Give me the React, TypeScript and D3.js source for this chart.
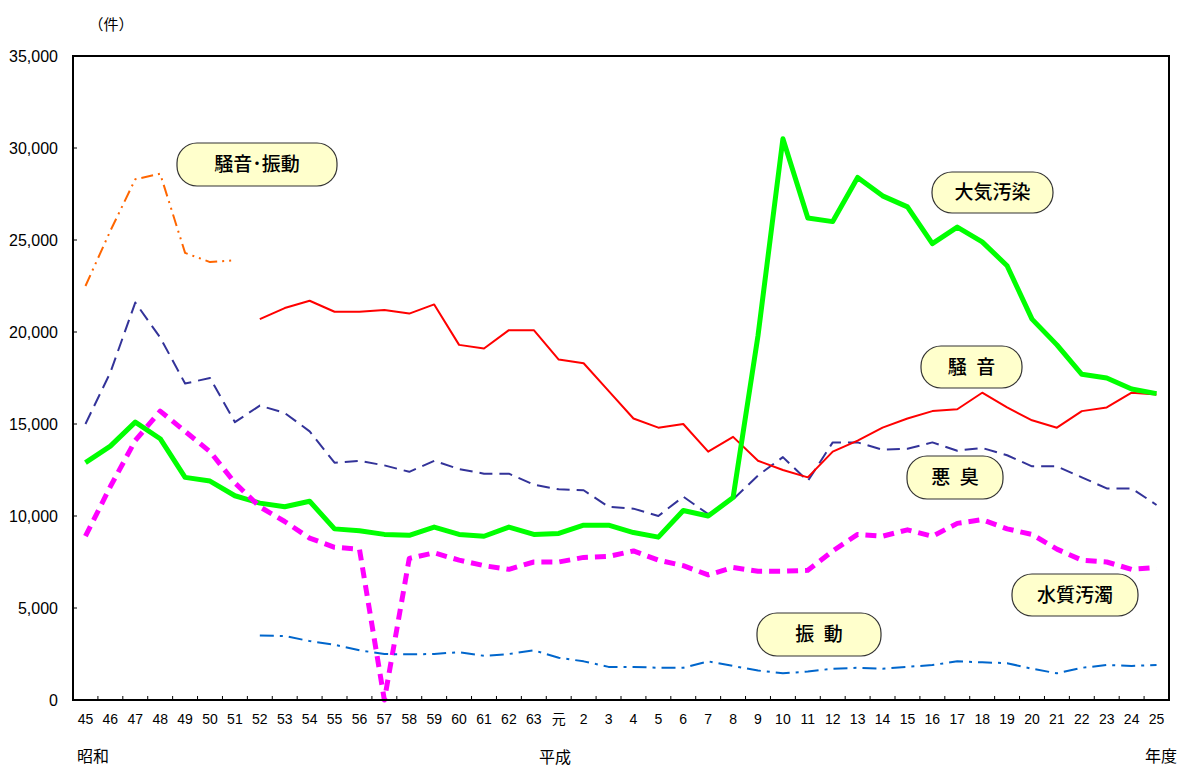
import React from "react";
import * as d3 from "d3";

const categories = [
  "45","46","47","48","49","50","51","52","53","54","55","56","57","58","59","60","61","62","63",
  "元","2","3","4","5","6","7","8","9","10","11","12","13","14","15","16","17","18","19","20","21","22","23","24","25",
];

type V = number | null;

const noiseVibration: V[] = [22500, 25500, 28300, 28600, 24300, 23800, 23900,
  null, null, null, null, null, null, null, null, null, null, null, null, null, null, null, null, null, null, null,
  null, null, null, null, null, null, null, null, null, null, null, null, null, null, null, null, null, null];

const odor: V[] = [15000, 17800, 21600, 19700, 17200, 17500, 15100, 16000, 15600, 14600, 12900, 13000, 12750,
  12400, 13000, 12550, 12300, 12300, 11700, 11450, 11400, 10500, 10400, 10000, 11050, 10100, 10900, 12200,
  13200, 11900, 14000, 14000, 13600, 13650, 14000, 13550, 13700, 13300, 12700, 12700, 12100, 11500, 11500, 10600];

const noise: V[] = [null, null, null, null, null, null, null,
  20700, 21300, 21700, 21100, 21100, 21200, 21000, 21500, 19300, 19100, 20100, 20100, 18500, 18300, 16800,
  15300, 14800, 15000, 13500, 14300, 13000, 12500, 12100, 13500, 14100, 14800, 15300, 15700, 15800, 16700,
  15900, 15200, 14800, 15700, 15900, 16700, 16600];

const airPollution: V[] = [12900, 13800, 15100, 14200, 12100, 11900, 11100, 10700, 10500, 10800, 9300, 9200, 9000,
  8950, 9400, 9000, 8900, 9400, 9000, 9050, 9500, 9500, 9100, 8850, 10300, 10000, 11000, 19800, 30500, 26200,
  26000, 28400, 27400, 26800, 24800, 25700, 24900, 23600, 20700, 19300, 17700, 17500, 16900, 16650];

const waterPollution: V[] = [8900, 11600, 14100, 15700, 14600, 13500, 11800, 10500, 9700, 8800, 8300, 8200, 0,
  7700, 8000, 7600, 7300, 7100, 7500, 7500, 7750, 7800, 8100, 7600, 7300, 6800, 7200, 7000, 7000, 7050, 8100,
  9000, 8900, 9250, 8900, 9600, 9800, 9300, 9000, 8200, 7600, 7500, 7100, 7200];

const vibration: V[] = [null, null, null, null, null, null, null,
  3500, 3480, 3200, 3000, 2700, 2500, 2480, 2500, 2600, 2400, 2500, 2700, 2300, 2100, 1800, 1800, 1750, 1750,
  2100, 1850, 1600, 1450, 1550, 1700, 1750, 1700, 1800, 1900, 2100, 2050, 2000, 1700, 1450, 1750, 1900, 1850, 1900];

const yTicks = [0, 5000, 10000, 15000, 20000, 25000, 30000, 35000];

const seriesStyles = [
  { data: noiseVibration, color: "#FF6600", width: 2, dash: "12,5,2,5,2,5" },
  { data: odor, color: "#333399", width: 2, dash: "13,7" },
  { data: noise, color: "#FF0000", width: 2, dash: "" },
  { data: airPollution, color: "#00FF00", width: 5, dash: "" },
  { data: waterPollution, color: "#FF00FF", width: 5, dash: "11,7" },
  { data: vibration, color: "#0066CC", width: 2, dash: "14,6,3,6" },
];

const labels = [
  { text: "騒音･振動", x: 177, y: 143, w: 160, h: 43 },
  { text: "大気汚染", x: 932, y: 172, w: 121, h: 41 },
  { text: "騒\u2002音", x: 921, y: 346, w: 101, h: 42 },
  { text: "悪\u2002臭", x: 907, y: 456, w: 96, h: 43 },
  { text: "水質汚濁", x: 1012, y: 574, w: 126, h: 42 },
  { text: "振\u2002動", x: 757, y: 613, w: 124, h: 43 },
];

const L = 73, R = 1169, T = 56, B = 700;
const cjk = "'Noto Sans CJK JP', sans-serif";
const latin = "'Liberation Sans', Arial, sans-serif";

export default function App() {
  const x = d3.scaleBand<string>().domain(categories).range([L, R]).padding(0);
  const y = d3.scaleLinear().domain([0, 35000]).range([B, T]);
  const cx = (i: number) => (x(categories[i]) as number) + x.bandwidth() / 2;
  const line = d3
    .line<V>()
    .defined((d) => d !== null)
    .x((_, i) => cx(i))
    .y((d) => y(d as number));

  return (
    <svg width={1179} height={767} style={{ position: "absolute", left: 0, top: 0, background: "#fff" }}>
      <rect x={0} y={0} width={1179} height={767} fill="#fff" />
      {yTicks.map((t) => (
        <g key={t}>
          <line x1={L} x2={L + 4} y1={y(t)} y2={y(t)} stroke="#000" strokeWidth={1} />
          <text x={58} y={y(t)} dy="0.36em" textAnchor="end" fontFamily={latin} fontSize={16} fill="#000">
            {d3.format(",")(t)}
          </text>
        </g>
      ))}
      {categories.map((c, i) =>
        i > 0 ? (
          <line key={"t" + c} x1={x(c)} x2={x(c)} y1={B} y2={B - 4} stroke="#000" strokeWidth={1} />
        ) : null
      )}
      {categories.map((c, i) => (
        <text
          key={"l" + c}
          x={cx(i)}
          y={719}
          dy="0.36em"
          textAnchor="middle"
          fontFamily={c === "元" ? cjk : latin}
          fontSize={14}
          fill="#000"
        >
          {c}
        </text>
      ))}
      {seriesStyles.map((s, k) => (
        <path
          key={k}
          d={line(s.data) || ""}
          fill="none"
          stroke={s.color}
          strokeWidth={s.width}
          strokeDasharray={s.dash || undefined}
          strokeLinejoin="round"
        />
      ))}
      <rect x={L} y={T} width={R - L} height={B - T} fill="none" stroke="#000" strokeWidth={2} />
      {labels.map((l) => (
        <g key={l.text}>
          <rect x={l.x} y={l.y} width={l.w} height={l.h} rx={20} ry={20} fill="#FFFFCC" stroke="#333" strokeWidth={1.2} />
          <text
            x={l.x + l.w / 2}
            y={l.y + l.h / 2}
            dy="0.36em"
            textAnchor="middle"
            fontFamily={cjk}
            fontSize={19}
            fontWeight={500}
            fill="#000"
          >
            {l.text}
          </text>
        </g>
      ))}
      <text x={111} y={25} dy="0.36em" textAnchor="middle" fontFamily={cjk} fontSize={15} fill="#000">（件）</text>
      <text x={77} y={756} dy="0.36em" fontFamily={cjk} fontSize={16} fill="#000">昭和</text>
      <text x={539} y={757} dy="0.36em" fontFamily={cjk} fontSize={16} fill="#000">平成</text>
      <text x={1145} y={756} dy="0.36em" fontFamily={cjk} fontSize={16} fill="#000">年度</text>
    </svg>
  );
}
